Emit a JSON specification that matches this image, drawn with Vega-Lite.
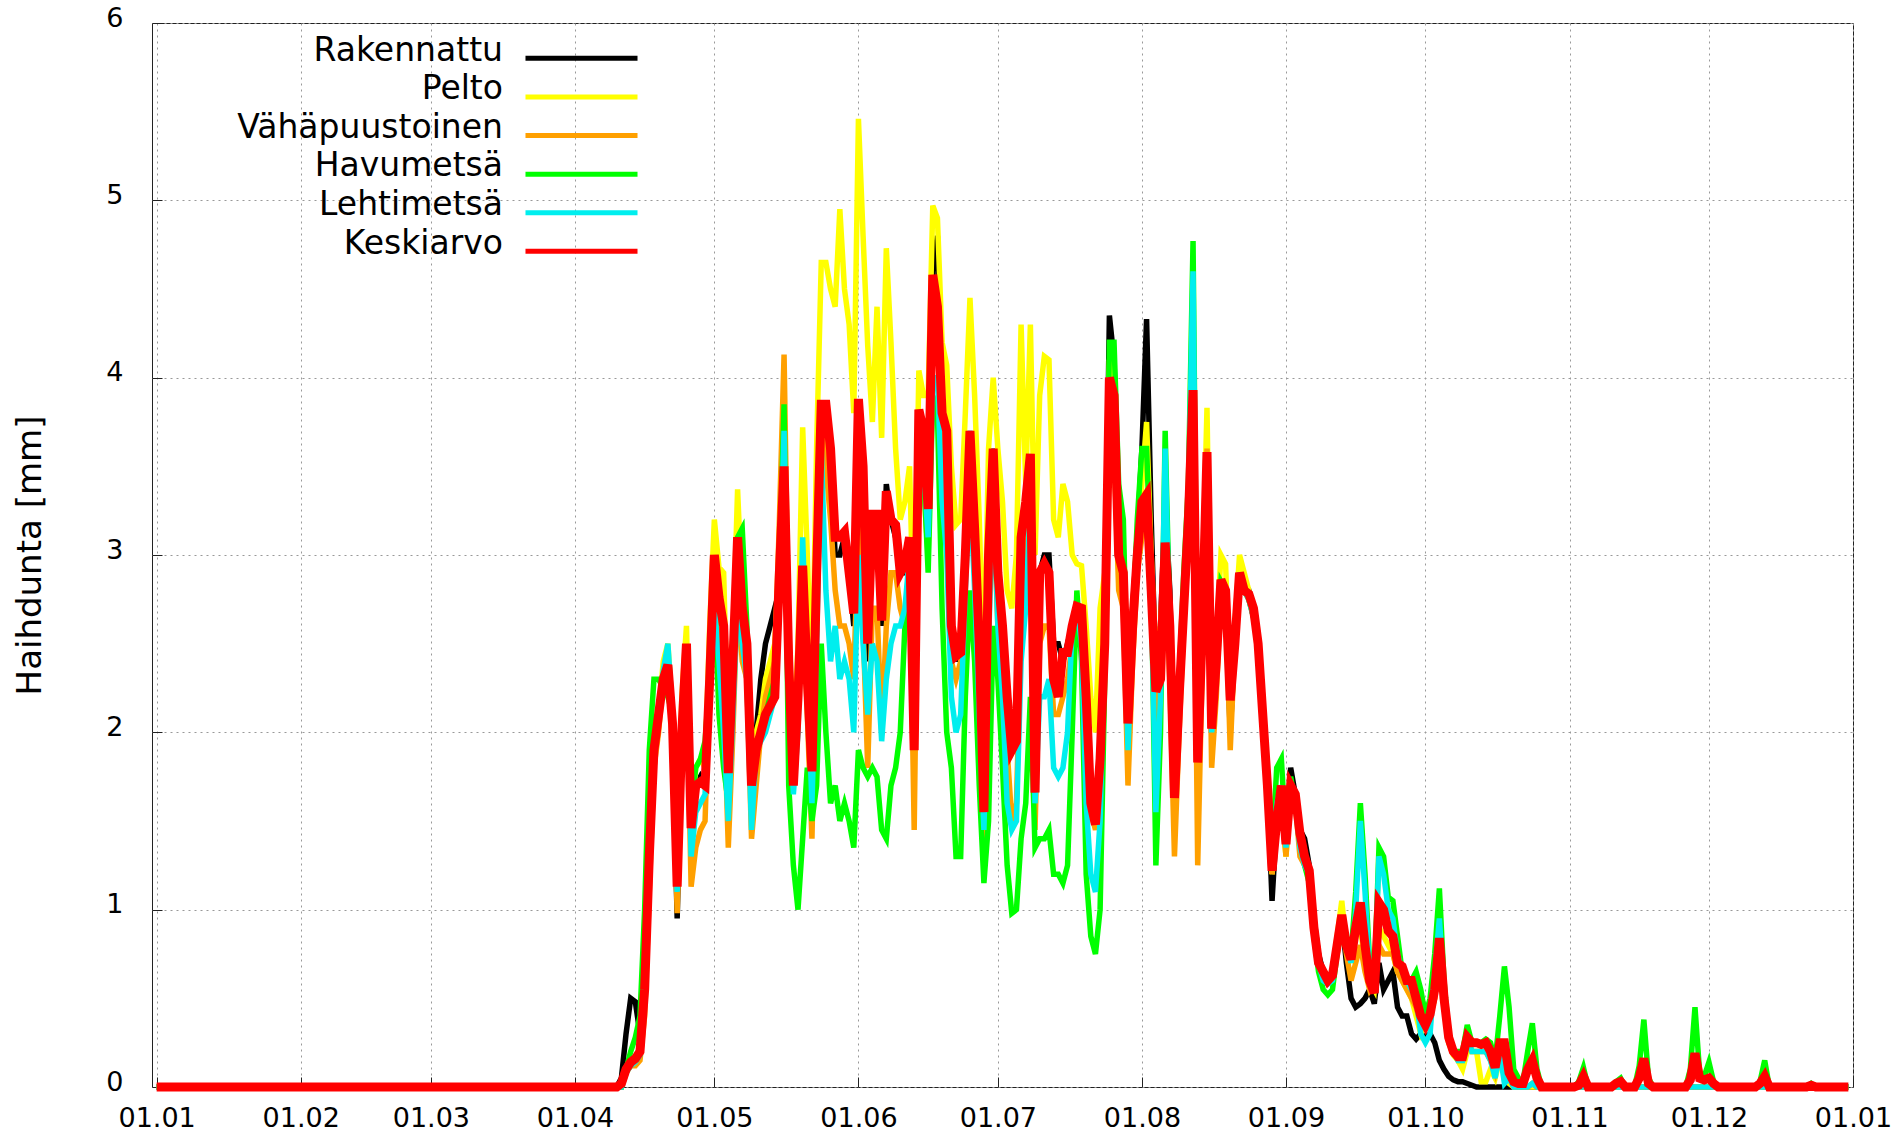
{
"$schema":"https://vega.github.io/schema/vega-lite/v6.json",
"width":1701,"height":1064,
"padding":{"left":152,"top":23,"right":48,"bottom":50},
"autosize":{"type":"none"},
"data":{"values":[
{"d":"2015-01-01","R":0,"P":0,"V":0,"H":0,"L":0,"K":0},
{"d":"2015-04-10","R":0,"P":0,"V":0,"H":0,"L":0,"K":0},
{"d":"2015-04-11","R":0.05,"P":0,"V":0,"H":0,"L":0,"K":0.02},
{"d":"2015-04-12","R":0.3,"P":0.08,"V":0.08,"H":0.1,"L":0.08,"K":0.1},
{"d":"2015-04-13","R":0.5,"P":0.12,"V":0.12,"H":0.2,"L":0.12,"K":0.14},
{"d":"2015-04-14","R":0.48,"P":0.14,"V":0.12,"H":0.28,"L":0.14,"K":0.16},
{"d":"2015-04-15","R":0.3,"P":0.18,"V":0.15,"H":0.4,"L":0.18,"K":0.2},
{"d":"2015-04-16","R":0.8,"P":0.5,"V":0.4,"H":1.0,"L":0.55,"K":0.55},
{"d":"2015-04-17","R":1.3,"P":1.2,"V":1.1,"H":1.9,"L":1.2,"K":1.3},
{"d":"2015-04-18","R":1.9,"P":1.9,"V":1.8,"H":2.3,"L":1.9,"K":1.9},
{"d":"2015-04-19","R":2.1,"P":2.1,"V":2.0,"H":2.3,"L":2.1,"K":2.1},
{"d":"2015-04-20","R":2.3,"P":2.4,"V":2.3,"H":2.25,"L":2.35,"K":2.3},
{"d":"2015-04-21","R":2.35,"P":2.5,"V":2.3,"H":2.2,"L":2.5,"K":2.38},
{"d":"2015-04-22","R":2.0,"P":2.1,"V":2.0,"H":2.1,"L":2.1,"K":2.05},
{"d":"2015-04-23","R":0.95,"P":1.2,"V":0.98,"H":1.2,"L":1.1,"K":1.13},
{"d":"2015-04-24","R":2.0,"P":2.2,"V":1.9,"H":2.0,"L":2.0,"K":2.0},
{"d":"2015-04-25","R":2.4,"P":2.6,"V":2.4,"H":2.4,"L":2.45,"K":2.5},
{"d":"2015-04-26","R":1.45,"P":1.5,"V":1.13,"H":1.6,"L":1.3,"K":1.46},
{"d":"2015-04-27","R":1.7,"P":1.8,"V":1.35,"H":1.8,"L":1.55,"K":1.7},
{"d":"2015-04-28","R":1.75,"P":1.85,"V":1.45,"H":1.85,"L":1.6,"K":1.72},
{"d":"2015-04-29","R":1.7,"P":1.8,"V":1.5,"H":1.95,"L":1.65,"K":1.7},
{"d":"2015-04-30","R":2.3,"P":2.6,"V":2.3,"H":2.3,"L":2.3,"K":2.3},
{"d":"2015-05-01","R":2.9,"P":3.2,"V":2.7,"H":2.8,"L":2.7,"K":3.0},
{"d":"2015-05-02","R":2.7,"P":2.93,"V":2.5,"H":2.1,"L":2.4,"K":2.76},
{"d":"2015-05-03","R":2.6,"P":2.9,"V":2.2,"H":1.8,"L":2.0,"K":2.6},
{"d":"2015-05-04","R":1.8,"P":1.9,"V":1.35,"H":1.6,"L":1.5,"K":1.77},
{"d":"2015-05-05","R":2.3,"P":2.5,"V":2.0,"H":2.3,"L":2.1,"K":2.4},
{"d":"2015-05-06","R":3.0,"P":3.37,"V":2.8,"H":3.1,"L":2.75,"K":3.1},
{"d":"2015-05-07","R":2.6,"P":2.75,"V":2.4,"H":3.15,"L":2.5,"K":2.7},
{"d":"2015-05-08","R":2.4,"P":2.5,"V":2.3,"H":2.6,"L":2.3,"K":2.5},
{"d":"2015-05-09","R":1.75,"P":1.8,"V":1.4,"H":1.8,"L":1.45,"K":1.7},
{"d":"2015-05-10","R":2.0,"P":2.0,"V":1.7,"H":1.95,"L":1.9,"K":1.9},
{"d":"2015-05-11","R":2.3,"P":2.1,"V":2.0,"H":2.0,"L":1.95,"K":2.0},
{"d":"2015-05-12","R":2.5,"P":2.3,"V":2.2,"H":2.1,"L":2.0,"K":2.1},
{"d":"2015-05-13","R":2.6,"P":2.4,"V":2.3,"H":2.2,"L":2.1,"K":2.15},
{"d":"2015-05-14","R":2.7,"P":2.5,"V":2.4,"H":2.3,"L":2.2,"K":2.2},
{"d":"2015-05-15","R":2.8,"P":3.0,"V":3.2,"H":2.9,"L":2.8,"K":2.9},
{"d":"2015-05-16","R":3.4,"P":3.6,"V":4.13,"H":3.85,"L":3.7,"K":3.5},
{"d":"2015-05-17","R":2.4,"P":2.6,"V":2.5,"H":1.7,"L":2.3,"K":2.4},
{"d":"2015-05-18","R":1.8,"P":1.9,"V":1.8,"H":1.25,"L":1.65,"K":1.7},
{"d":"2015-05-19","R":2.3,"P":2.5,"V":2.1,"H":1.0,"L":2.0,"K":2.2},
{"d":"2015-05-20","R":2.9,"P":3.72,"V":2.9,"H":1.4,"L":3.1,"K":2.94},
{"d":"2015-05-21","R":2.3,"P":3.0,"V":2.1,"H":1.8,"L":2.3,"K":2.3},
{"d":"2015-05-22","R":1.8,"P":2.2,"V":1.4,"H":1.5,"L":1.6,"K":1.78},
{"d":"2015-05-23","R":2.9,"P":3.6,"V":2.6,"H":1.7,"L":2.5,"K":2.9},
{"d":"2015-05-24","R":3.8,"P":4.65,"V":3.8,"H":2.5,"L":3.6,"K":3.85},
{"d":"2015-05-25","R":3.8,"P":4.65,"V":3.5,"H":2.0,"L":2.8,"K":3.85},
{"d":"2015-05-26","R":3.5,"P":4.5,"V":3.2,"H":1.6,"L":2.4,"K":3.6},
{"d":"2015-05-27","R":3.0,"P":4.4,"V":2.8,"H":1.7,"L":2.6,"K":3.1},
{"d":"2015-05-28","R":3.0,"P":4.95,"V":2.6,"H":1.5,"L":2.3,"K":3.1},
{"d":"2015-05-29","R":3.1,"P":4.5,"V":2.6,"H":1.6,"L":2.4,"K":3.13},
{"d":"2015-05-30","R":2.9,"P":4.3,"V":2.5,"H":1.5,"L":2.3,"K":2.9},
{"d":"2015-05-31","R":2.6,"P":3.8,"V":2.3,"H":1.35,"L":2.0,"K":2.67},
{"d":"2015-06-01","R":3.8,"P":5.46,"V":3.2,"H":1.9,"L":3.0,"K":3.88},
{"d":"2015-06-02","R":3.4,"P":4.8,"V":2.6,"H":1.8,"L":2.5,"K":3.5},
{"d":"2015-06-03","R":2.4,"P":4.18,"V":1.8,"H":1.75,"L":2.1,"K":2.5},
{"d":"2015-06-04","R":3.2,"P":3.75,"V":2.7,"H":1.8,"L":2.5,"K":3.23},
{"d":"2015-06-05","R":3.1,"P":4.4,"V":2.7,"H":1.75,"L":2.4,"K":3.23},
{"d":"2015-06-06","R":2.6,"P":3.66,"V":2.0,"H":1.45,"L":1.95,"K":2.63},
{"d":"2015-06-07","R":3.4,"P":4.73,"V":2.6,"H":1.4,"L":2.3,"K":3.36},
{"d":"2015-06-08","R":3.2,"P":4.2,"V":2.9,"H":1.7,"L":2.5,"K":3.2},
{"d":"2015-06-09","R":3.1,"P":3.6,"V":2.9,"H":1.8,"L":2.6,"K":3.17},
{"d":"2015-06-10","R":2.9,"P":3.2,"V":2.7,"H":2.0,"L":2.6,"K":2.9},
{"d":"2015-06-11","R":2.9,"P":3.3,"V":2.6,"H":2.6,"L":2.7,"K":2.95},
{"d":"2015-06-12","R":3.1,"P":3.5,"V":3.0,"H":2.9,"L":3.0,"K":3.1},
{"d":"2015-06-13","R":1.9,"P":2.5,"V":1.45,"H":2.3,"L":2.0,"K":1.9},
{"d":"2015-06-14","R":3.8,"P":4.04,"V":3.5,"H":3.4,"L":3.6,"K":3.82},
{"d":"2015-06-15","R":3.7,"P":3.9,"V":3.4,"H":3.5,"L":3.5,"K":3.7},
{"d":"2015-06-16","R":3.4,"P":3.9,"V":3.0,"H":2.9,"L":3.1,"K":3.26},
{"d":"2015-06-17","R":4.6,"P":4.97,"V":4.2,"H":3.9,"L":4.0,"K":4.58},
{"d":"2015-06-18","R":4.8,"P":4.9,"V":4.3,"H":3.8,"L":4.0,"K":4.4},
{"d":"2015-06-19","R":3.8,"P":4.2,"V":3.6,"H":2.7,"L":3.3,"K":3.8},
{"d":"2015-06-20","R":3.6,"P":4.07,"V":3.4,"H":2.0,"L":3.0,"K":3.7},
{"d":"2015-06-21","R":2.6,"P":3.5,"V":2.4,"H":1.8,"L":2.2,"K":2.6},
{"d":"2015-06-22","R":2.4,"P":3.17,"V":2.3,"H":1.3,"L":2.0,"K":2.43},
{"d":"2015-06-23","R":2.5,"P":3.2,"V":2.4,"H":1.3,"L":2.1,"K":2.45},
{"d":"2015-06-24","R":3.0,"P":3.8,"V":2.9,"H":2.2,"L":2.8,"K":3.0},
{"d":"2015-06-25","R":3.7,"P":4.45,"V":3.4,"H":2.8,"L":3.4,"K":3.7},
{"d":"2015-06-26","R":3.1,"P":3.9,"V":2.9,"H":2.4,"L":2.8,"K":3.15},
{"d":"2015-06-27","R":2.5,"P":3.2,"V":2.2,"H":1.7,"L":2.1,"K":2.5},
{"d":"2015-06-28","R":1.6,"P":2.3,"V":1.35,"H":1.15,"L":1.45,"K":1.55},
{"d":"2015-06-29","R":3.0,"P":3.6,"V":2.7,"H":1.5,"L":2.5,"K":3.0},
{"d":"2015-06-30","R":3.6,"P":4.0,"V":3.3,"H":2.6,"L":3.4,"K":3.6},
{"d":"2015-07-01","R":2.8,"P":3.6,"V":2.6,"H":2.3,"L":2.6,"K":2.9},
{"d":"2015-07-02","R":2.5,"P":3.3,"V":2.3,"H":1.8,"L":2.2,"K":2.6},
{"d":"2015-07-03","R":2.2,"P":2.8,"V":1.9,"H":1.25,"L":1.6,"K":2.2},
{"d":"2015-07-04","R":1.9,"P":2.7,"V":1.5,"H":0.98,"L":1.45,"K":1.9},
{"d":"2015-07-05","R":2.0,"P":3.0,"V":1.6,"H":1.0,"L":1.5,"K":1.95},
{"d":"2015-07-06","R":3.0,"P":4.3,"V":2.6,"H":1.4,"L":2.4,"K":3.1},
{"d":"2015-07-07","R":3.3,"P":3.4,"V":3.0,"H":1.6,"L":2.7,"K":3.3},
{"d":"2015-07-08","R":3.5,"P":4.3,"V":3.3,"H":2.2,"L":3.3,"K":3.57},
{"d":"2015-07-09","R":1.8,"P":3.0,"V":1.45,"H":1.35,"L":1.6,"K":1.66},
{"d":"2015-07-10","R":2.9,"P":3.9,"V":2.5,"H":1.4,"L":2.2,"K":2.9},
{"d":"2015-07-11","R":3.0,"P":4.12,"V":2.6,"H":1.4,"L":2.2,"K":2.95},
{"d":"2015-07-12","R":3.0,"P":4.1,"V":2.6,"H":1.45,"L":2.3,"K":2.9},
{"d":"2015-07-13","R":2.5,"P":3.2,"V":2.1,"H":1.2,"L":1.8,"K":2.3},
{"d":"2015-07-14","R":2.5,"P":3.1,"V":2.1,"H":1.2,"L":1.75,"K":2.2},
{"d":"2015-07-15","R":2.4,"P":3.4,"V":2.2,"H":1.15,"L":1.8,"K":2.45},
{"d":"2015-07-16","R":2.5,"P":3.3,"V":2.3,"H":1.25,"L":2.0,"K":2.45},
{"d":"2015-07-17","R":2.6,"P":3.0,"V":2.5,"H":2.0,"L":2.6,"K":2.6},
{"d":"2015-07-18","R":2.7,"P":2.95,"V":2.6,"H":2.8,"L":2.7,"K":2.71},
{"d":"2015-07-19","R":2.7,"P":2.94,"V":2.6,"H":2.4,"L":2.5,"K":2.7},
{"d":"2015-07-20","R":2.3,"P":2.6,"V":2.0,"H":1.2,"L":1.6,"K":2.2},
{"d":"2015-07-21","R":1.7,"P":2.2,"V":1.55,"H":0.85,"L":1.2,"K":1.6},
{"d":"2015-07-22","R":1.5,"P":2.0,"V":1.45,"H":0.75,"L":1.1,"K":1.48},
{"d":"2015-07-23","R":1.9,"P":2.7,"V":1.7,"H":1.0,"L":1.5,"K":1.85},
{"d":"2015-07-24","R":2.6,"P":2.9,"V":2.5,"H":2.3,"L":2.5,"K":2.5},
{"d":"2015-07-25","R":4.35,"P":4.1,"V":3.8,"H":4.2,"L":4.0,"K":4.0},
{"d":"2015-07-26","R":4.1,"P":3.9,"V":3.6,"H":4.2,"L":3.9,"K":3.9},
{"d":"2015-07-27","R":3.1,"P":3.0,"V":2.8,"H":3.4,"L":3.0,"K":3.0},
{"d":"2015-07-28","R":2.9,"P":2.9,"V":2.7,"H":3.2,"L":2.9,"K":2.9},
{"d":"2015-07-29","R":2.1,"P":2.1,"V":1.7,"H":2.1,"L":1.9,"K":2.05},
{"d":"2015-07-30","R":2.7,"P":2.6,"V":2.4,"H":2.6,"L":2.6,"K":2.6},
{"d":"2015-07-31","R":3.1,"P":3.0,"V":2.9,"H":3.2,"L":3.0,"K":3.0},
{"d":"2015-08-01","R":3.6,"P":3.4,"V":3.1,"H":3.6,"L":3.3,"K":3.3},
{"d":"2015-08-02","R":4.33,"P":3.75,"V":3.2,"H":3.6,"L":3.3,"K":3.34},
{"d":"2015-08-03","R":3.2,"P":3.0,"V":2.7,"H":2.9,"L":2.8,"K":2.8},
{"d":"2015-08-04","R":2.3,"P":2.4,"V":2.0,"H":1.25,"L":1.55,"K":2.23},
{"d":"2015-08-05","R":2.6,"P":2.6,"V":2.3,"H":2.0,"L":2.2,"K":2.3},
{"d":"2015-08-06","R":3.3,"P":3.1,"V":2.9,"H":3.7,"L":3.6,"K":3.07},
{"d":"2015-08-07","R":2.8,"P":2.7,"V":2.3,"H":2.6,"L":2.5,"K":2.6},
{"d":"2015-08-08","R":1.7,"P":1.7,"V":1.3,"H":1.8,"L":1.7,"K":1.63},
{"d":"2015-08-09","R":2.3,"P":2.2,"V":2.0,"H":2.3,"L":2.2,"K":2.2},
{"d":"2015-08-10","R":2.8,"P":2.8,"V":2.6,"H":2.9,"L":2.8,"K":2.7},
{"d":"2015-08-11","R":3.3,"P":3.3,"V":3.1,"H":3.4,"L":3.3,"K":3.2},
{"d":"2015-08-12","R":3.9,"P":3.9,"V":3.7,"H":4.77,"L":4.6,"K":3.93},
{"d":"2015-08-13","R":1.9,"P":1.9,"V":1.25,"H":2.0,"L":1.9,"K":1.83},
{"d":"2015-08-14","R":2.7,"P":2.8,"V":2.4,"H":2.7,"L":2.7,"K":2.6},
{"d":"2015-08-15","R":3.6,"P":3.83,"V":3.6,"H":3.5,"L":3.4,"K":3.58},
{"d":"2015-08-16","R":2.0,"P":2.1,"V":1.8,"H":2.1,"L":2.0,"K":2.02},
{"d":"2015-08-17","R":2.3,"P":2.5,"V":2.2,"H":2.4,"L":2.3,"K":2.4},
{"d":"2015-08-18","R":2.8,"P":3.0,"V":2.8,"H":2.85,"L":2.8,"K":2.86},
{"d":"2015-08-19","R":2.8,"P":2.95,"V":2.8,"H":2.8,"L":2.8,"K":2.8},
{"d":"2015-08-20","R":2.0,"P":2.2,"V":1.9,"H":2.2,"L":2.2,"K":2.18},
{"d":"2015-08-21","R":2.5,"P":2.6,"V":2.5,"H":2.5,"L":2.5,"K":2.5},
{"d":"2015-08-22","R":2.9,"P":3.0,"V":2.9,"H":2.9,"L":2.9,"K":2.9},
{"d":"2015-08-23","R":2.8,"P":2.9,"V":2.8,"H":2.8,"L":2.8,"K":2.8},
{"d":"2015-08-24","R":2.8,"P":2.8,"V":2.75,"H":2.75,"L":2.75,"K":2.78},
{"d":"2015-08-25","R":2.7,"P":2.65,"V":2.65,"H":2.65,"L":2.65,"K":2.7},
{"d":"2015-08-26","R":2.55,"P":2.5,"V":2.5,"H":2.5,"L":2.5,"K":2.5},
{"d":"2015-08-27","R":2.15,"P":2.1,"V":2.1,"H":2.1,"L":2.1,"K":2.1},
{"d":"2015-08-28","R":1.7,"P":1.7,"V":1.7,"H":1.75,"L":1.7,"K":1.7},
{"d":"2015-08-29","R":1.05,"P":1.2,"V":1.2,"H":1.3,"L":1.25,"K":1.22},
{"d":"2015-08-30","R":1.5,"P":1.5,"V":1.45,"H":1.8,"L":1.6,"K":1.5},
{"d":"2015-08-31","R":1.65,"P":1.6,"V":1.6,"H":1.85,"L":1.7,"K":1.7},
{"d":"2015-09-01","R":1.4,"P":1.3,"V":1.3,"H":1.4,"L":1.35,"K":1.37},
{"d":"2015-09-02","R":1.8,"P":1.7,"V":1.7,"H":1.75,"L":1.7,"K":1.7},
{"d":"2015-09-03","R":1.65,"P":1.6,"V":1.6,"H":1.6,"L":1.6,"K":1.65},
{"d":"2015-09-04","R":1.45,"P":1.4,"V":1.3,"H":1.4,"L":1.35,"K":1.43},
{"d":"2015-09-05","R":1.4,"P":1.3,"V":1.25,"H":1.25,"L":1.25,"K":1.3},
{"d":"2015-09-06","R":1.25,"P":1.2,"V":1.2,"H":1.15,"L":1.2,"K":1.22},
{"d":"2015-09-07","R":0.95,"P":0.9,"V":0.9,"H":0.85,"L":0.9,"K":0.9},
{"d":"2015-09-08","R":0.75,"P":0.7,"V":0.7,"H":0.65,"L":0.7,"K":0.7},
{"d":"2015-09-09","R":0.65,"P":0.65,"V":0.65,"H":0.55,"L":0.6,"K":0.65},
{"d":"2015-09-10","R":0.6,"P":0.6,"V":0.6,"H":0.52,"L":0.58,"K":0.6},
{"d":"2015-09-11","R":0.65,"P":0.65,"V":0.63,"H":0.55,"L":0.6,"K":0.63},
{"d":"2015-09-12","R":0.8,"P":0.85,"V":0.8,"H":0.75,"L":0.78,"K":0.8},
{"d":"2015-09-13","R":0.95,"P":1.05,"V":0.95,"H":0.9,"L":0.95,"K":0.97},
{"d":"2015-09-14","R":0.7,"P":0.8,"V":0.75,"H":0.8,"L":0.8,"K":0.8},
{"d":"2015-09-15","R":0.5,"P":0.7,"V":0.6,"H":0.75,"L":0.7,"K":0.72},
{"d":"2015-09-16","R":0.45,"P":0.85,"V":0.7,"H":1.1,"L":1.0,"K":0.9},
{"d":"2015-09-17","R":0.47,"P":0.9,"V":0.8,"H":1.6,"L":1.5,"K":1.04},
{"d":"2015-09-18","R":0.5,"P":0.7,"V":0.65,"H":1.2,"L":1.1,"K":0.8},
{"d":"2015-09-19","R":0.55,"P":0.6,"V":0.55,"H":0.7,"L":0.65,"K":0.6},
{"d":"2015-09-20","R":0.47,"P":0.55,"V":0.6,"H":0.6,"L":0.55,"K":0.53},
{"d":"2015-09-21","R":0.7,"P":0.9,"V":0.8,"H":1.35,"L":1.3,"K":1.04},
{"d":"2015-09-22","R":0.55,"P":0.85,"V":0.75,"H":1.3,"L":1.2,"K":1.0},
{"d":"2015-09-23","R":0.6,"P":0.8,"V":0.75,"H":1.07,"L":1.0,"K":0.88},
{"d":"2015-09-24","R":0.65,"P":0.75,"V":0.75,"H":1.05,"L":0.95,"K":0.85},
{"d":"2015-09-25","R":0.45,"P":0.65,"V":0.65,"H":0.85,"L":0.75,"K":0.7},
{"d":"2015-09-26","R":0.4,"P":0.6,"V":0.6,"H":0.65,"L":0.65,"K":0.68},
{"d":"2015-09-27","R":0.4,"P":0.55,"V":0.55,"H":0.6,"L":0.6,"K":0.6},
{"d":"2015-09-28","R":0.3,"P":0.5,"V":0.5,"H":0.6,"L":0.55,"K":0.6},
{"d":"2015-09-29","R":0.27,"P":0.4,"V":0.45,"H":0.65,"L":0.5,"K":0.5},
{"d":"2015-09-30","R":0.3,"P":0.3,"V":0.35,"H":0.55,"L":0.3,"K":0.4},
{"d":"2015-10-01","R":0.28,"P":0.35,"V":0.35,"H":0.4,"L":0.25,"K":0.35},
{"d":"2015-10-02","R":0.3,"P":0.4,"V":0.4,"H":0.5,"L":0.3,"K":0.41},
{"d":"2015-10-03","R":0.25,"P":0.5,"V":0.5,"H":0.75,"L":0.65,"K":0.55},
{"d":"2015-10-04","R":0.15,"P":0.8,"V":0.8,"H":1.12,"L":0.95,"K":0.84},
{"d":"2015-10-05","R":0.1,"P":0.5,"V":0.5,"H":0.6,"L":0.55,"K":0.5},
{"d":"2015-10-06","R":0.06,"P":0.25,"V":0.25,"H":0.3,"L":0.3,"K":0.28},
{"d":"2015-10-07","R":0.04,"P":0.18,"V":0.2,"H":0.2,"L":0.2,"K":0.2},
{"d":"2015-10-08","R":0.03,"P":0.15,"V":0.15,"H":0.2,"L":0.15,"K":0.17},
{"d":"2015-10-09","R":0.03,"P":0.1,"V":0.15,"H":0.2,"L":0.15,"K":0.17},
{"d":"2015-10-10","R":0.02,"P":0.2,"V":0.25,"H":0.35,"L":0.3,"K":0.28},
{"d":"2015-10-11","R":0.01,"P":0.2,"V":0.2,"H":0.25,"L":0.2,"K":0.25},
{"d":"2015-10-12","R":0,"P":0.2,"V":0.2,"H":0.25,"L":0.2,"K":0.25},
{"d":"2015-10-13","R":0,"P":0.03,"V":0.2,"H":0.25,"L":0.2,"K":0.24},
{"d":"2015-10-14","R":0,"P":0.03,"V":0.2,"H":0.27,"L":0.2,"K":0.25},
{"d":"2015-10-15","R":0,"P":0.1,"V":0.15,"H":0.25,"L":0.15,"K":0.2},
{"d":"2015-10-16","R":0,"P":0.05,"V":0.08,"H":0.15,"L":0.05,"K":0.11},
{"d":"2015-10-17","R":0,"P":0.15,"V":0.2,"H":0.4,"L":0.2,"K":0.25},
{"d":"2015-10-18","R":0,"P":0.2,"V":0.2,"H":0.68,"L":0.02,"K":0.25},
{"d":"2015-10-19","R":0,"P":0.02,"V":0.05,"H":0.45,"L":0.05,"K":0.08},
{"d":"2015-10-20","R":0,"P":0,"V":0,"H":0.1,"L":0,"K":0.03},
{"d":"2015-10-21","R":0,"P":0,"V":0,"H":0.05,"L":0,"K":0.02},
{"d":"2015-10-22","R":0,"P":0,"V":0,"H":0.03,"L":0,"K":0.02},
{"d":"2015-10-23","R":0,"P":0,"V":0,"H":0.2,"L":0,"K":0.1},
{"d":"2015-10-24","R":0,"P":0,"V":0.02,"H":0.36,"L":0.02,"K":0.15},
{"d":"2015-10-25","R":0,"P":0,"V":0,"H":0.1,"L":0,"K":0.05},
{"d":"2015-10-26","R":0,"P":0,"V":0,"H":0,"L":0,"K":0},
{"d":"2015-11-02","R":0,"P":0,"V":0,"H":0,"L":0,"K":0},
{"d":"2015-11-03","R":0,"P":0,"V":0,"H":0.03,"L":0,"K":0.01},
{"d":"2015-11-04","R":0,"P":0,"V":0,"H":0.11,"L":0,"K":0.06},
{"d":"2015-11-05","R":0,"P":0,"V":0,"H":0,"L":0,"K":0},
{"d":"2015-11-10","R":0,"P":0,"V":0,"H":0,"L":0,"K":0},
{"d":"2015-11-11","R":0,"P":0,"V":0,"H":0.03,"L":0,"K":0.02},
{"d":"2015-11-12","R":0,"P":0,"V":0,"H":0.05,"L":0,"K":0.03},
{"d":"2015-11-13","R":0,"P":0,"V":0,"H":0,"L":0,"K":0},
{"d":"2015-11-15","R":0,"P":0,"V":0,"H":0,"L":0,"K":0},
{"d":"2015-11-16","R":0,"P":0,"V":0,"H":0.12,"L":0,"K":0.05},
{"d":"2015-11-17","R":0,"P":0,"V":0,"H":0.38,"L":0,"K":0.16},
{"d":"2015-11-18","R":0,"P":0,"V":0,"H":0.05,"L":0,"K":0.02},
{"d":"2015-11-19","R":0,"P":0,"V":0,"H":0,"L":0,"K":0},
{"d":"2015-11-26","R":0,"P":0,"V":0,"H":0,"L":0,"K":0},
{"d":"2015-11-27","R":0,"P":0,"V":0,"H":0.1,"L":0,"K":0.04},
{"d":"2015-11-28","R":0,"P":0,"V":0,"H":0.45,"L":0,"K":0.19},
{"d":"2015-11-29","R":0,"P":0,"V":0,"H":0.08,"L":0,"K":0.05},
{"d":"2015-11-30","R":0,"P":0,"V":0,"H":0.06,"L":0,"K":0.04},
{"d":"2015-12-01","R":0,"P":0,"V":0,"H":0.14,"L":0,"K":0.05},
{"d":"2015-12-02","R":0,"P":0,"V":0,"H":0.03,"L":0,"K":0.02},
{"d":"2015-12-03","R":0,"P":0,"V":0,"H":0,"L":0,"K":0},
{"d":"2015-12-11","R":0,"P":0,"V":0,"H":0,"L":0,"K":0},
{"d":"2015-12-12","R":0,"P":0,"V":0,"H":0.03,"L":0,"K":0.02},
{"d":"2015-12-13","R":0,"P":0,"V":0,"H":0.15,"L":0,"K":0.06},
{"d":"2015-12-14","R":0,"P":0,"V":0,"H":0,"L":0,"K":0},
{"d":"2015-12-22","R":0,"P":0,"V":0,"H":0,"L":0,"K":0},
{"d":"2015-12-23","R":0,"P":0,"V":0,"H":0.02,"L":0,"K":0.01},
{"d":"2015-12-24","R":0,"P":0,"V":0,"H":0,"L":0,"K":0},
{"d":"2015-12-31","R":0,"P":0,"V":0,"H":0,"L":0,"K":0}
]},
"transform":[{"fold":["R","P","V","H","L","K"],"as":["s","v"]}],
"encoding":{
 "x":{"field":"d","type":"temporal",
  "scale":{"type":"utc","domain":[{"year":2014,"month":12,"date":31,"utc":true},{"year":2016,"month":1,"date":1,"utc":true}]},
  "axis":{"title":null,"format":"%d.%m","labelFlush":false,"labelOverlap":false,
   "values":[{"year":2015,"month":1,"date":1,"utc":true},{"year":2015,"month":2,"date":1,"utc":true},{"year":2015,"month":3,"date":1,"utc":true},{"year":2015,"month":4,"date":1,"utc":true},{"year":2015,"month":5,"date":1,"utc":true},{"year":2015,"month":6,"date":1,"utc":true},{"year":2015,"month":7,"date":1,"utc":true},{"year":2015,"month":8,"date":1,"utc":true},{"year":2015,"month":9,"date":1,"utc":true},{"year":2015,"month":10,"date":1,"utc":true},{"year":2015,"month":11,"date":1,"utc":true},{"year":2015,"month":12,"date":1,"utc":true},{"year":2016,"month":1,"date":1,"utc":true}],
   "tickSize":-10,"labelPadding":28}},
 "y":{"field":"v","type":"quantitative","scale":{"domain":[0,6],"nice":false},
  "axis":{"values":[0,1,2,3,4,5,6],"format":"d","tickSize":-10,"labelPadding":39,"labelOffset":-5,
   "title":"Haihdunta [mm]","titleFontSize":34,"titleFontWeight":"normal","titleFont":"DejaVu Sans","titleColor":"#000",
   "titleAngle":270,"titleX":-122,"titleY":532,"titleAlign":"center","titleBaseline":"middle"}},
 "color":{"field":"s","type":"nominal",
  "scale":{"domain":["R","P","V","H","L","K"],"range":["#000000","#ffff00","#ffa000","#00ff00","#00eeee","#ff0000"]},
  "legend":{"title":null,"orient":"none","legendX":239,"legendY":11,"symbolType":"M-5,0.7H5","symbolSize":502,"symbolStrokeWidth":5,
   "symbolOffset":174,"labelAlign":"right","labelOffset":-95,"labelFontSize":33,"labelFont":"DejaVu Sans","labelColor":"#000","labelLimit":0,
   "rowPadding":3.6,"labelBaseline":"middle",
   "labelExpr":"datum.label=='R'?'Rakennattu':datum.label=='P'?'Pelto':datum.label=='V'?'Vähäpuustoinen':datum.label=='H'?'Havumetsä':datum.label=='L'?'Lehtimetsä':'Keskiarvo'"}}
},
"layer":[
 {"transform":[{"filter":"datum.s=='R'"}],"mark":{"type":"line","strokeWidth":5.5}},
 {"transform":[{"filter":"datum.s=='P'"}],"mark":{"type":"line","strokeWidth":5.5}},
 {"transform":[{"filter":"datum.s=='V'"}],"mark":{"type":"line","strokeWidth":5.5}},
 {"transform":[{"filter":"datum.s=='H'"}],"mark":{"type":"line","strokeWidth":5.5}},
 {"transform":[{"filter":"datum.s=='L'"}],"mark":{"type":"line","strokeWidth":5.5}},
 {"transform":[{"filter":"datum.s=='K'"}],"mark":{"type":"line","strokeWidth":9}}
],
"config":{
 "view":{"stroke":"#222","strokeWidth":1},
 "axis":{"labelFont":"DejaVu Sans","labelFontSize":27,"labelColor":"#000","tickColor":"#222","tickWidth":1,"domain":false,
  "grid":true,"gridColor":"#999","gridDash":[2,4],"gridWidth":1,"gridOpacity":1}
}
}
